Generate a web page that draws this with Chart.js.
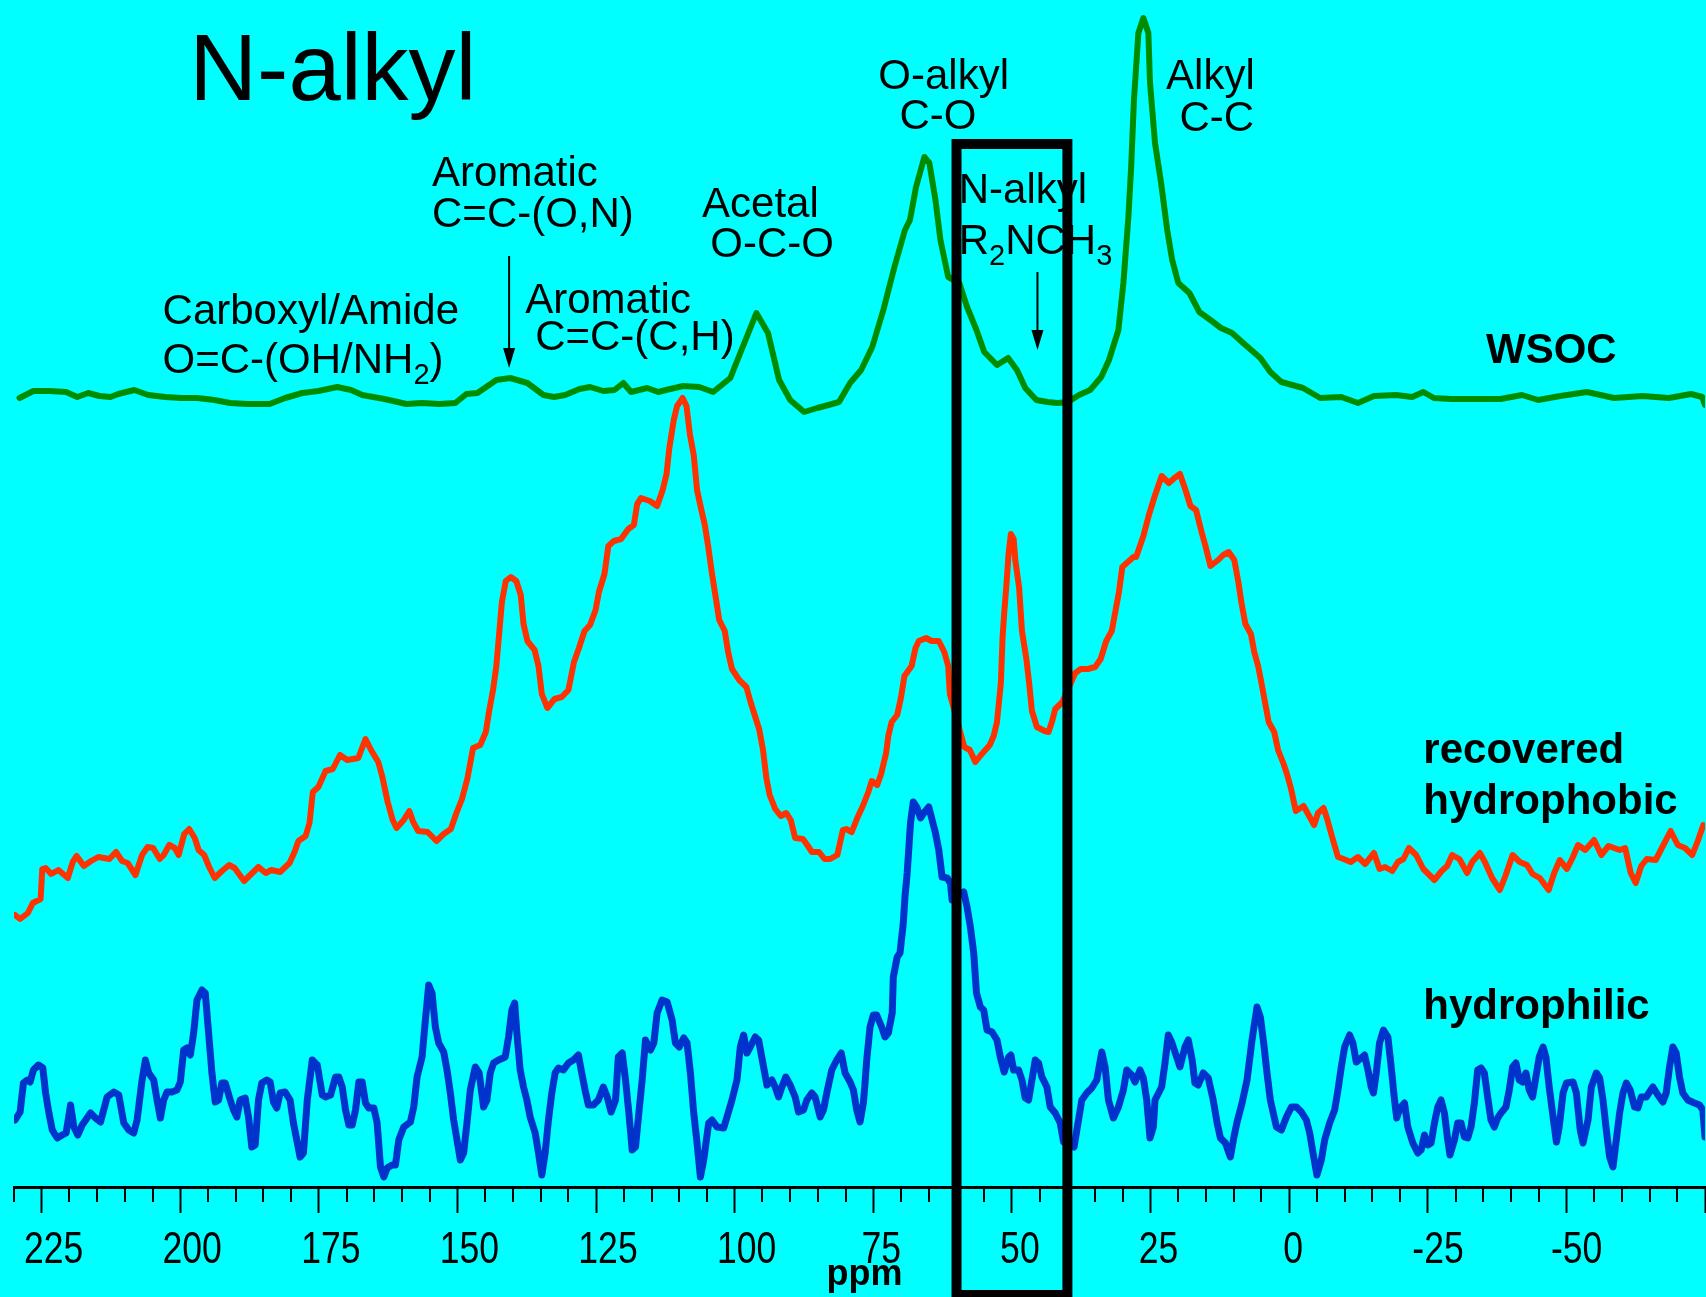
<!DOCTYPE html>
<html>
<head>
<meta charset="utf-8">
<script src="https://cdn.jsdelivr.net/npm/chart.js@4.4.1/dist/chart.umd.min.js"></script>
<style>
  html, body { margin: 0; padding: 0; background: #00ffff; }
  canvas { display: block; }
</style>
</head>
<body>
<canvas id="nmrChart" width="1706" height="1297"></canvas>
<script>
// [ppm, intensity], intensity = height above the ppm axis
const wsoc = [
  [229.0,789],[226.5,796],[223.6,796],[220.6,795],[218.6,790],[216.6,794],[214.6,791],[212.6,790],[211.2,793],[208.3,797],
  [205.8,792],[202.7,790],[199.8,789],[196.9,789],[193.9,787],[191.0,784],[187.9,783],[183.9,783],[181.1,789],[178.0,794],
  [175.1,796],[171.7,800],[169.2,797],[167.2,792],[163.2,788],[159.2,783],[156.4,784],[153.3,783],[150.4,784],[148.4,793],
  [146.4,794],[143.0,807],[140.5,809],[137.4,804],[134.5,792],[132.6,790],[130.6,792],[128.0,798],[126.1,800],[123.7,796],
  [121.7,797],[120.1,804],[118.7,795],[115.8,799],[113.8,795],[112.4,797],[109.3,801],[106.4,800],[103.9,795],[100.8,809],
  [99.0,834],[96.1,874],[94.0,854],[92.0,807],[90.0,787],[87.5,775],[85.1,779],[83.1,782],[81.2,785],[79.2,804],
  [77.2,817],[75.2,840],[73.2,877],[71.2,920],[69.3,957],[68.4,967],[67.3,1000],[65.8,1030],[64.9,1024],[63.8,987],
  [62.9,947],[61.5,910],[59.5,904],[58.1,880],[56.4,857],[55.0,835],[52.7,822],[50.7,829],[49.1,817],[47.6,799],
  [45.6,787],[43.6,785],[41.8,784],[39.9,785],[37.9,792],[35.9,797],[33.9,810],[32.5,827],[30.8,857],[29.9,904],
  [29.0,970],[28.5,1020],[28.0,1087],[27.2,1154],[26.3,1169],[25.4,1154],[25.1,1104],[24.2,1044],[23.1,1004],[22.0,957],
  [21.1,927],[20.0,904],[18.0,894],[16.2,875],[14.2,867],[12.3,859],[10.3,854],[8.3,844],[5.2,829],[3.4,815],
  [1.4,805],[-2.5,799],[-5.6,789],[-9.4,790],[-12.4,784],[-15.3,791],[-19.3,792],[-22.2,790],[-24.2,795],[-26.1,789],
  [-29.2,788],[-38.1,788],[-42.0,792],[-44.9,787],[-48.9,791],[-53.7,795],[-58.6,789],[-63.7,791],[-68.5,789],[-72.5,793],
  [-74.5,790],[-75.0,782]
];

const hydrophobic = [
  [229.8,272],[228.9,268],[227.5,274],[226.6,284],[225.2,288],[224.9,318],[224.3,319],[223.3,313],[222.0,317],[220.3,309],
  [219.4,325],[218.7,331],[217.4,321],[216.1,326],[214.8,330],[212.8,328],[211.6,335],[210.5,326],[209.5,324],[208.1,312],
  [206.9,332],[205.9,340],[204.9,339],[203.7,328],[203.0,332],[202.0,342],[201.0,339],[200.3,332],[199.3,353],[198.4,358],
  [197.4,349],[196.7,337],[195.7,332],[194.8,320],[193.8,309],[192.5,316],[191.2,322],[190.2,319],[188.5,306],[187.2,313],
  [185.9,320],[184.6,314],[183.6,317],[182.0,315],[180.3,324],[179.4,335],[178.7,346],[177.4,351],[176.7,364],[176.1,395],
  [175.1,400],[173.8,416],[172.5,418],[171.2,432],[169.9,427],[167.9,429],[166.6,448],[165.6,437],[164.3,425],[163.6,411],
  [162.6,385],[161.7,367],[161.0,359],[159.7,367],[158.7,376],[158.0,365],[157.1,356],[155.4,355],[153.8,346],[152.5,353],
  [151.2,358],[150.2,374],[149.2,388],[148.2,409],[147.2,439],[145.9,442],[144.9,455],[144.3,476],[143.6,497],[143.0,521],
  [142.5,553],[142.0,585],[141.3,606],[140.4,610],[139.4,606],[138.6,592],[138.1,563],[137.4,546],[136.1,537],[135.4,521],
  [134.8,493],[133.8,479],[132.5,488],[131.2,490],
  [130.0,497],[129.0,525],[128.1,539],[127.1,556],[126.1,562],[125.1,577],[124.5,595],[123.5,613],[122.8,641],[121.8,646],
  [120.5,648],[119.2,658],[118.2,662],[117.6,683],[116.9,689],[115.3,686],[114.0,681],[113.0,697],[112.3,713],[111.8,739],
  [111.0,767],[110.4,781],[109.4,789],[108.7,781],[108.1,753],[107.4,732],[106.8,697],[106.1,679],[105.4,662],[104.8,641],
  [104.1,613],[103.5,592],[102.8,567],[101.8,556],[101.2,535],[100.5,518],[99.2,507],[97.9,500],[97.2,486],[96.3,470],
  [95.6,458],[94.9,437],[94.3,409],[93.7,392],[92.7,378],[91.7,371],[90.7,374],[89.9,367],[89.1,349],[87.7,348],
  [86.8,341],[86.1,335],[84.8,335],[83.8,328],[82.8,328],[81.5,332],[80.5,357],[79.9,358],[78.9,355],[77.9,369],
  [76.9,381],[75.9,395],[75.3,406],[74.3,402],[73.6,413],[72.7,434],[72.3,451],[71.7,465],[70.7,472],[70.0,490],
  [69.4,511],[68.1,521],[67.4,539],[66.8,546],[65.5,549],[64.5,546],[63.2,546],[62.2,535],[61.5,521],[61.2,493],
  [58.6,440],[57.6,437],[56.6,425],[55.6,432],[54.0,442],[53.3,451],[52.7,465],[52.0,504],[51.7,549],[51.4,574],
  [51.0,602],[50.6,634],[50.2,653],[49.7,648],[49.4,627],[48.7,599],[48.2,556],[47.4,528],[46.9,504],[46.4,476],
  [45.5,460],[44.1,456],[43.4,455],[42.8,465],[42.2,478],[40.9,485],[38.6,514],[37.6,518],[36.3,518],[35.0,520],
  [34.0,528],[33.0,546],[32.0,556],[31.4,574],[30.7,595],[30.1,620],[29.1,625],[28.1,630],
  [27.6,630],[26.3,651],[25.3,672],[24.3,690],[23.0,711],[21.7,704],[20.7,709],[19.7,713],[18.7,697],[17.8,681],
  [16.8,677],[15.8,655],[15.1,641],[14.2,621],[12.8,627],[11.9,632],[10.9,635],[9.9,627],[9.2,606],[8.6,584],
  [7.9,563],[6.9,553],[6.3,535],[5.6,521],[5.0,504],[4.3,483],[3.7,465],[2.7,455],[2.0,437],[1.0,423],
  [0.4,413],[-0.3,399],[-1.2,376],[-2.6,381],[-3.6,371],[-4.5,362],[-5.2,374],[-6.2,379],[-6.8,369],[-7.8,349],
  [-8.8,330],[-9.8,328],[-11.1,325],[-12.4,330],[-13.7,323],[-15.3,334],[-16.3,318],[-17.3,320],[-18.6,316],[-19.6,325],
  [-20.6,328],[-21.6,339],[-22.9,332],[-24.2,318],[-26.2,307],[-27.5,316],[-28.5,321],[-29.4,332],[-30.7,328],[-32.1,314],
  [-33.0,325],[-34.4,334],[-35.3,325],[-36.6,309],[-38.0,297],[-39.0,311],[-40.3,332],[-41.6,325],[-42.9,322],[-43.9,313],
  [-45.2,309],[-46.8,297],[-47.8,314],[-48.8,327],[-50.1,318],[-51.1,329],[-52.1,342],[-53.4,337],[-55.0,347],[-56.3,332],
  [-57.6,341],[-59.6,337],[-60.6,339],[-61.6,314],[-62.5,304],[-63.5,321],[-64.5,328],[-66.1,327],[-67.5,342],[-68.8,356],
  [-70.1,342],[-71.4,339],[-72.7,332],[-73.7,346],[-74.7,362]
];

const hydrophilic = [
  [229.8,67],[228.9,75],[228.3,104],[227.6,107],[227.1,105],[226.5,117],[225.6,122],[224.8,119],[224.3,94],[223.7,74],
  [223.1,57],[222.2,49],[221.3,52],[220.6,54],[219.8,82],[219.2,60],[218.5,52],[217.7,62],[216.2,74],[215.3,69],
  [214.4,65],[213.2,90],[212.0,95],[211.1,92],[210.2,64],[209.3,57],[208.4,54],[207.8,67],[206.9,107],[206.3,127],
  [205.7,114],[204.8,107],[204.2,87],[203.6,69],[203.0,87],[202.4,95],[201.5,95],[200.6,97],[200.0,105],[199.4,137],
  [198.8,139],[198.2,132],[197.6,154],[197.0,187],[196.1,197],[195.5,194],[194.9,154],[194.3,114],[193.7,85],[193.1,87],
  [192.5,104],[191.9,104],[191.0,87],[190.4,77],[189.8,70],[189.2,87],[188.3,89],[187.7,70],[187.1,40],[186.5,42],
  [185.9,87],[185.3,104],[184.4,107],[183.8,105],[183.2,85],[182.6,79],[182.0,94],[181.1,95],[180.2,87],[179.6,64],
  [179.0,47],[178.4,30],[177.8,34],[177.1,87],[176.2,127],[175.3,122],[174.4,92],[173.8,90],[172.9,92],[172.0,110],
  [171.4,110],[170.8,100],[170.2,77],[169.6,62],[169.0,62],[168.4,77],[167.8,105],[167.2,105],[166.6,84],[166.0,79],
  [165.1,79],[164.5,64],[163.9,20],[163.3,10],[162.7,19],[161.8,22],[161.2,22],[160.6,47],[159.7,60],[158.5,65],
  [157.9,80],[157.3,110],[156.4,130],[155.8,167],[155.2,202],
  [154.6,194],[154.0,160],[153.4,144],[152.5,135],[151.9,117],[151.3,94],[150.7,67],[150.1,47],[149.5,27],[148.9,34],
  [148.3,64],[147.7,97],[146.8,120],[146.1,114],[145.3,80],[144.7,87],[144.1,114],[143.5,124],[142.6,127],[141.4,130],
  [140.8,150],[140.2,177],[139.7,184],[139.3,154],[138.7,117],[138.1,100],[137.5,87],[136.9,70],[136.0,54],[135.4,34],
  [134.8,12],[134.2,34],[133.6,67],[133.0,94],[132.4,114],[131.8,119],[130.9,117],[130.0,124],[129.1,127],[128.2,132],
  [127.6,114],[127.0,97],[126.4,82],[125.5,82],[124.6,87],[123.7,100],[123.0,90],[122.3,75],[121.5,87],[121.0,130],
  [120.3,134],[119.7,107],[119.1,74],[118.5,37],[117.9,40],[117.3,74],[116.7,107],[116.1,147],[115.2,137],[114.6,144],
  [114.0,174],[113.1,187],[112.2,185],[111.3,167],[110.7,144],[110.0,140],[109.2,149],[108.6,144],[108.0,114],[107.4,74],
  [106.8,44],[106.2,10],[105.6,27],[104.7,64],[104.1,67],[103.2,60],[102.0,59],[101.4,70],[100.5,87],[99.6,107],
  [99.0,140],[98.4,152],[97.8,134],[97.2,140],[96.3,150],[95.7,147],[94.8,120],[94.2,102],[93.3,107],[92.7,100],
  [92.1,90],[91.5,100],[90.8,110],[90.0,102],[89.1,90],[88.5,75],[87.6,77],[87.0,87],[86.1,94],[85.5,90],
  [84.6,70],[84.0,77],[83.4,94],[82.5,117],[81.6,127],[80.8,134],[80.1,114],
  [79.2,105],[78.6,97],[78.0,77],[77.4,65],[76.8,84],[76.5,104],[76.2,127],[75.6,160],[75.0,172],[74.4,172],
  [73.5,160],[72.9,150],[72.3,154],[71.6,174],[71.4,210],[70.7,230],[70.2,234],[69.6,264],[69.3,290],[68.9,314],
  [68.3,364],[67.8,385],[67.1,379],[66.5,369],[65.9,374],[65.0,380],[64.4,367],[63.8,354],[63.2,337],[62.6,310],
  [61.7,309],[61.1,304],[60.8,287],[58.7,295],[58.1,280],[57.5,260],[56.9,234],[56.4,194],[55.7,180],[55.1,177],
  [54.5,157],[53.6,155],[52.7,147],[52.1,130],[51.4,115],[50.6,130],[50.2,132],[49.7,117],[48.8,117],[48.2,107],
  [47.6,89],[47.0,87],[46.4,107],[45.8,127],[45.2,124],[44.6,110],[43.7,100],[43.1,80],[42.2,74],[41.3,64],
  [40.7,45],[38.8,40],[38.0,67],[37.4,87],[36.5,94],[35.6,99],[34.7,107],[33.8,135],[33.2,120],[32.6,87],
  [31.7,69],[30.8,80],[29.9,97],[29.3,117],[28.4,112],[27.8,105],[26.9,117],[26.3,109],[25.7,87],[25.1,49],
  [24.5,60],[24.2,87],[23.0,100],[22.4,124],[21.8,152],[21.2,145],[20.6,135],[19.7,120],[18.8,140],[18.2,147],
  [17.5,127],[17.0,104],[16.4,102],[15.5,114],[14.6,109],[13.7,87],[13.0,64],[12.4,49],[11.5,44],[10.6,30],
  [10.0,49],[9.4,65],[8.5,84],[7.6,107],[6.7,147],[5.8,180],[5.2,170],[4.6,144],[4.0,114],[3.4,87],
  [2.3,60],[1.4,57],[0.5,70],[-0.4,80],[-1.3,80],[-2.2,75],[-3.1,67],[-3.7,54],[-4.3,34],[-5.0,12],
  [-5.8,27],[-6.4,47],[-7.3,64],[-8.2,77],[-8.8,97],[-9.4,120],[-10.0,140],[-10.9,152],[-11.5,144],[-12.1,125],
  [-13.0,129],[-13.6,132],[-14.2,117],[-14.8,100],[-15.2,94],[-15.7,114],[-16.3,144],[-17.0,157],[-17.8,150],[-18.4,120],
  [-19.0,87],[-19.4,69],[-20.0,79],[-20.8,84],[-21.4,60],[-22.3,44],[-23.2,34],[-23.8,37],[-24.4,52],[-25.0,42],
  [-25.6,44],[-26.2,64],[-26.8,80],[-27.4,87],[-28.0,74],[-28.6,47],[-29.0,32],[-29.8,47],[-30.4,64],[-31.0,64],
  [-31.6,50],[-32.2,49],[-32.8,60],[-33.4,84],[-34.0,117],[-34.6,119],[-35.2,114],[-35.8,90],[-36.4,67],[-37.0,60],
  [-37.6,69],[-38.2,74],[-39.1,80],[-39.7,97],[-40.3,120],[-40.9,124],[-41.5,107],[-42.1,105],[-42.7,114],[-43.3,97],
  [-43.9,90],[-44.5,110],[-45.1,130],[-45.8,140],[-46.3,130],[-46.9,100],[-47.6,70],[-48.2,45],[-48.7,60],[-49.4,94],
  [-50.0,104],[-51.2,105],[-51.8,94],[-52.5,57],[-53.0,44],[-53.9,67],[-54.5,100],[-55.4,114],[-56.0,109],[-56.6,87],
  [-57.2,57],[-57.8,30],[-58.4,20],[-59.0,47],[-59.6,74],[-60.2,94],[-60.8,104],[-61.5,97],[-62.3,80],[-62.9,79],
  [-63.5,90],[-64.4,90],[-65.6,100],[-66.5,92],[-67.4,85],[-68.0,94],[-68.6,120],[-69.2,140],[-69.8,134],[-70.4,110],
  [-71.0,94],[-71.9,87],[-73.1,84],[-74.0,82],[-74.6,77],[-75.0,50]
];

const majorTicks = [225, 200, 175, 150, 125, 100, 75, 50, 25, 0, -25, -50];

// text labels placed in data space: ppm (left edge) and level (baseline)
const annotations = [
  { parts: [['N-alkyl']], ppm: 198.4, level: 1087, size: 94 },
  { parts: [['Carboxyl/Amide']], ppm: 203.2, level: 863 },
  { parts: [['O=C-(OH/NH'], ['2', true], [')']], ppm: 203.2, level: 814 },
  { parts: [['Aromatic']], ppm: 154.6, level: 1001 },
  { parts: [['C=C-(O,N)']], ppm: 154.6, level: 960 },
  { parts: [['Aromatic']], ppm: 137.8, level: 874 },
  { parts: [['C=C-(C,H)']], ppm: 136.0, level: 837 },
  { parts: [['Acetal']], ppm: 105.9, level: 970 },
  { parts: [['O-C-O']], ppm: 104.4, level: 930 },
  { parts: [['O-alkyl']], ppm: 74.1, level: 1098 },
  { parts: [['C-O']], ppm: 70.3, level: 1058 },
  { parts: [['N-alkyl']], ppm: 59.6, level: 984 },
  { parts: [['R'], ['2', true], ['NCH'], ['3', true]], ppm: 59.6, level: 933 },
  { parts: [['Alkyl']], ppm: 22.2, level: 1098 },
  { parts: [['C-C']], ppm: 19.8, level: 1056 },
  { parts: [['WSOC']], ppm: -35.5, level: 824, bold: true },
  { parts: [['recovered']], ppm: -24.2, level: 424, bold: true },
  { parts: [['hydrophobic']], ppm: -24.2, level: 373, bold: true },
  { parts: [['hydrophilic']], ppm: -24.2, level: 168, bold: true },
  { parts: [['ppm']], ppm: 76.6, level: -98, bold: true, size: 36, center: true }
];

const arrows = [
  { ppm: 140.7, from: 931, to: 819 },
  { ppm: 45.4, from: 915, to: 837 }
];

const nAlkylWindow = { from: 60, to: 40, top: 1043, bottom: -108 };

const FONT = '"Liberation Sans", Arial, Helvetica, sans-serif';

const backdrop = {
  id: 'backdrop',
  beforeDraw(chart) {
    const { ctx, width, height } = chart;
    ctx.save();
    ctx.fillStyle = '#00ffff';
    ctx.fillRect(0, 0, width, height);
    ctx.restore();
  }
};

function drawParts(ctx, item, x, y) {
  const size = item.size || 42;
  const weight = item.bold ? 'bold ' : '';
  const subSize = Math.round(size * 0.68);
  let total = 0;
  item.parts.forEach(([txt, sub]) => {
    ctx.font = `${weight}${sub ? subSize : size}px ${FONT}`;
    total += ctx.measureText(txt).width;
  });
  let cx = item.center ? x - total / 2 : x;
  item.parts.forEach(([txt, sub]) => {
    ctx.font = `${weight}${sub ? subSize : size}px ${FONT}`;
    ctx.fillText(txt, cx, sub ? y + 11 : y);
    cx += ctx.measureText(txt).width;
  });
}

const decorations = {
  id: 'decorations',
  afterDatasetsDraw(chart) {
    const { ctx, scales: { x, y } } = chart;
    ctx.save();
    ctx.fillStyle = '#000';
    ctx.textAlign = 'left';
    ctx.textBaseline = 'alphabetic';
    annotations.forEach(a => drawParts(ctx, a, x.getPixelForValue(a.ppm), y.getPixelForValue(a.level)));

    ctx.strokeStyle = '#000';
    ctx.lineWidth = 2;
    arrows.forEach(a => {
      const px = x.getPixelForValue(a.ppm);
      const y0 = y.getPixelForValue(a.from);
      const y1 = y.getPixelForValue(a.to);
      ctx.beginPath();
      ctx.moveTo(px, y0);
      ctx.lineTo(px, y1 - 16);
      ctx.stroke();
      ctx.beginPath();
      ctx.moveTo(px, y1);
      ctx.lineTo(px - 6, y1 - 20);
      ctx.lineTo(px + 6, y1 - 20);
      ctx.closePath();
      ctx.fill();
    });
    ctx.restore();
  },
  afterDraw(chart) {
    const { ctx, scales: { x, y } } = chart;
    const axisY = y.bottom;
    ctx.save();
    // minor ticks are shorter than the major ones drawn by the axis
    ctx.strokeStyle = '#000';
    ctx.lineWidth = 2;
    x.ticks.forEach(t => {
      if (t.value % 25 === 0) return;
      const px = Math.round(x.getPixelForValue(t.value));
      ctx.beginPath();
      ctx.moveTo(px, axisY);
      ctx.lineTo(px, axisY + 15);
      ctx.stroke();
    });

    // condensed tick labels
    ctx.fillStyle = '#000';
    ctx.textAlign = 'center';
    ctx.textBaseline = 'alphabetic';
    ctx.font = `45px ${FONT}`;
    majorTicks.forEach(v => {
      const s = String(v);
      const w = ctx.measureText(s).width * 0.79;
      ctx.save();
      ctx.translate(x.getPixelForValue(v) + 0.2 * w, axisY + 76);
      ctx.scale(0.79, 1);
      ctx.fillText(s, 0, 0);
      ctx.restore();
    });

    // N-alkyl window
    const left = x.getPixelForValue(nAlkylWindow.from);
    const right = x.getPixelForValue(nAlkylWindow.to);
    const top = y.getPixelForValue(nAlkylWindow.top);
    const bottom = y.getPixelForValue(nAlkylWindow.bottom);
    ctx.strokeStyle = '#000';
    ctx.lineWidth = 10;
    ctx.strokeRect(left, top, right - left, bottom - top);
    ctx.restore();
  }
};

const toPoints = arr => arr.map(([p, v]) => ({ x: p, y: v }));

new Chart(document.getElementById('nmrChart'), {
  type: 'line',
  data: {
    datasets: [
      { label: 'WSOC', data: toPoints(wsoc), borderColor: '#008c00', borderWidth: 6 },
      { label: 'recovered hydrophobic', data: toPoints(hydrophobic), borderColor: '#ff3300', borderWidth: 6 },
      { label: 'hydrophilic', data: toPoints(hydrophilic), borderColor: '#0033cc', borderWidth: 7 }
    ]
  },
  options: {
    responsive: false,
    animation: false,
    devicePixelRatio: 1,
    layout: { padding: { left: 14, right: 1, top: 0, bottom: 0 } },
    elements: {
      point: { radius: 0 },
      line: { tension: 0, fill: false, borderJoinStyle: 'round', borderCapStyle: 'round' }
    },
    plugins: {
      legend: { display: false },
      tooltip: { enabled: false }
    },
    scales: {
      x: {
        type: 'linear',
        reverse: true,
        min: -75,
        max: 230,
        afterFit(scale) { scale.height = 110; },
        ticks: { stepSize: 5, display: false },
        grid: {
          drawOnChartArea: false,
          drawTicks: true,
          tickLength: 26,
          tickWidth: 2,
          tickColor: ctx => (ctx.tick && ctx.tick.value % 25 === 0) ? '#000' : 'rgba(0,0,0,0)'
        },
        border: { display: true, color: '#000', width: 3 }
      },
      y: { display: false, min: 0, max: 1187 }
    }
  },
  plugins: [backdrop, decorations]
});
</script>
</body>
</html>
